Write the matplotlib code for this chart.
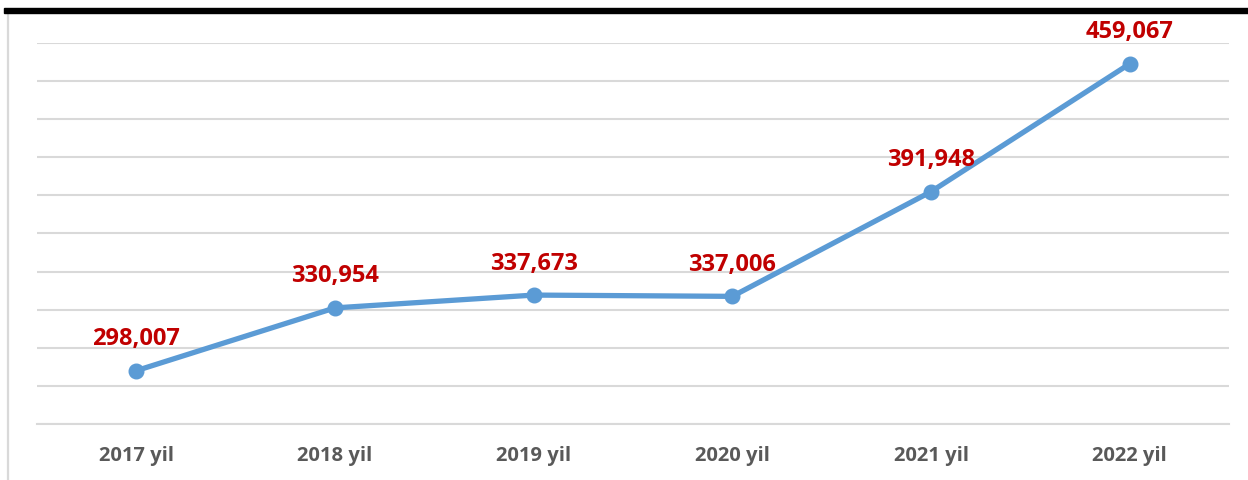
import matplotlib
matplotlib.use("Agg")
import matplotlib.pyplot as plt
from matplotlib.patches import Rectangle
from matplotlib.lines import Line2D

years = ["2017 yil", "2018 yil", "2019 yil", "2020 yil", "2021 yil", "2022 yil"]
values = [298007, 330954, 337673, 337006, 391948, 459067]

plt.rcParams['font.family'] = ['Open Sans', 'DejaVu Sans']

W, H = 1248, 480
fig = plt.figure(figsize=(W / 100, H / 100), dpi=100)
ax = fig.add_axes([37 / W, (H - 424) / H, (1229 - 37) / W, (424 - 43) / H])

x = list(range(len(years)))
ax.plot(x, values, color="#5B9BD5", lw=3.8, marker="o", ms=10.5,
        solid_capstyle="round", zorder=3)

for xi, v in zip(x, values):
    ax.annotate(f"{v:,}", (xi, v), xytext=(0, 14), textcoords="offset points",
                ha="center", va="bottom", color="#C00000",
                fontsize=17, fontweight="bold")

ax.set_xlim(-0.5, len(years) - 0.5)
ax.set_ylim(270000, 470000)
ax.set_yticks(range(270000, 470001, 20000))
ax.set_yticklabels([])
ax.tick_params(axis="y", length=0)
ax.grid(axis="y", color="#d9d9d9", lw=1.5)
ax.set_axisbelow(True)

ax.set_xticks(x)
ax.set_xticklabels(years, color="#595959", fontsize=14.5, fontweight="bold")
ax.tick_params(axis="x", length=0, pad=16)

for s in ["top", "right", "left"]:
    ax.spines[s].set_visible(False)
ax.spines["bottom"].set_color("#d9d9d9")
ax.spines["bottom"].set_linewidth(1.5)

# frame decorations
fig.patches.append(Rectangle((4 / W, (H - 13) / H), (W - 4) / W, 4.5 / H,
                             transform=fig.transFigure, color="black", zorder=5))
fig.lines.append(Line2D([7.5 / W, 7.5 / W], [0, (H - 13) / H],
                        transform=fig.transFigure, color="#d9d9d9", lw=1.6))

fig.savefig("out.png", dpi=100)
